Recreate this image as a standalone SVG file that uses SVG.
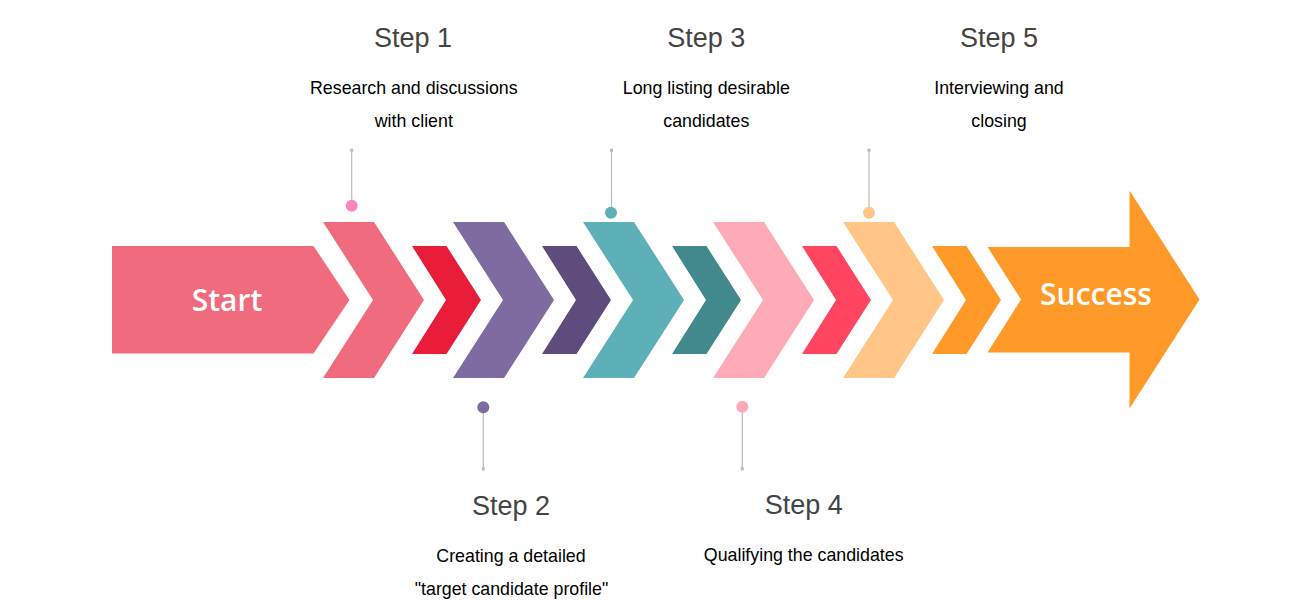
<svg xmlns="http://www.w3.org/2000/svg" width="1301" height="601" viewBox="0 0 1301 601">
<style>
.title{font-family:"Liberation Sans",Arial,sans-serif;font-size:27px;fill:#444;text-anchor:middle}
.desc{font-family:"Liberation Sans",Arial,sans-serif;font-size:17.8px;fill:#000;text-anchor:middle}
.big{font-family:"Open Sans","Noto Sans",sans-serif;font-weight:600;font-size:30px;fill:#fff;text-anchor:middle}
.lead{stroke:#bbb;stroke-width:1.2;fill:none}
.end{fill:#bbb}
</style>
<defs>
<polygon id="bigc" points="0,-78 51,-78 101,0 51,78 0,78 50,0"/>
<polygon id="smc" points="0,-54 34.5,-54 69,0 34.5,54 0,54 34,0"/>
</defs>
<rect width="1301" height="601" fill="#fff"/>
<g id="start">
<polygon points="112,246 313.5,246 349.5,300 313.5,353.5 112,353.5" fill="#F06B7D"/>
<text class="big" x="227" y="311">Start</text>
</g>
<g id="chevrons">
<use href="#bigc" x="323" y="300" fill="#F06B7D"/>
<use href="#smc" x="412" y="300" fill="#E91C3A"/>
<use href="#bigc" x="453" y="300" fill="#7E6BA2"/>
<use href="#smc" x="542" y="300" fill="#5E4D7C"/>
<use href="#bigc" x="583" y="300" fill="#5EB0B8"/>
<use href="#smc" x="672" y="300" fill="#41898D"/>
<use href="#bigc" x="713" y="300" fill="#FFAAB7"/>
<use href="#smc" x="802" y="300" fill="#FF455F"/>
<use href="#bigc" x="843" y="300" fill="#FFC688"/>
<use href="#smc" x="932" y="300" fill="#FF9A29"/>
</g>
<g id="success">
<polygon points="987.5,247 1129.5,247 1129.5,190.5 1199.5,299.5 1129.5,408.5 1129.5,352.5 987.5,352.5 1021,299.5" fill="#FF9A29"/>
<text class="big" x="1096" y="305">Success</text>
</g>
<g id="connectors">
<line class="lead" x1="351.7" y1="150" x2="351.7" y2="205"/>
<rect class="end" x="350.2" y="148.7" width="3" height="3"/>
<line class="lead" x1="483.3" y1="407" x2="483.3" y2="469"/>
<rect class="end" x="481.8" y="467.5" width="3" height="3"/>
<line class="lead" x1="611.5" y1="150" x2="611.5" y2="212"/>
<rect class="end" x="610" y="148.7" width="3" height="3"/>
<line class="lead" x1="742.3" y1="407" x2="742.3" y2="469"/>
<rect class="end" x="740.8" y="467.3" width="3" height="3"/>
<line class="lead" x1="869" y1="150" x2="869" y2="212"/>
<rect class="end" x="867.5" y="148.7" width="3" height="3"/>
</g>
<g id="step1">
<circle cx="351.7" cy="205.7" r="6" fill="#FF85C0"/>
<text class="title" x="413" y="47.3">Step 1</text>
<text class="desc" x="413.8" y="94.3">Research and discussions</text>
<text class="desc" x="413.8" y="127.3">with client</text>
</g>
<g id="step2">
<circle cx="483.3" cy="407.3" r="6" fill="#7E6BA2"/>
<text class="title" x="511" y="515">Step 2</text>
<text class="desc" x="511" y="561.7">Creating a detailed</text>
<text class="desc" x="511.5" y="594.5">"target candidate profile"</text>
</g>
<g id="step3">
<circle cx="611" cy="212.7" r="6" fill="#5EB0B8"/>
<text class="title" x="706.3" y="47.3">Step 3</text>
<text class="desc" x="706.3" y="94.3">Long listing desirable</text>
<text class="desc" x="706.3" y="127.3">candidates</text>
</g>
<g id="step4">
<circle cx="742.3" cy="406.7" r="6" fill="#FFAAB7"/>
<text class="title" x="803.7" y="514.3">Step 4</text>
<text class="desc" x="803.7" y="561">Qualifying the candidates</text>
</g>
<g id="step5">
<circle cx="869" cy="212.7" r="6" fill="#FFC688"/>
<text class="title" x="999" y="47.3">Step 5</text>
<text class="desc" x="999" y="94.3">Interviewing and</text>
<text class="desc" x="999" y="127.3">closing</text>
</g>
</svg>
